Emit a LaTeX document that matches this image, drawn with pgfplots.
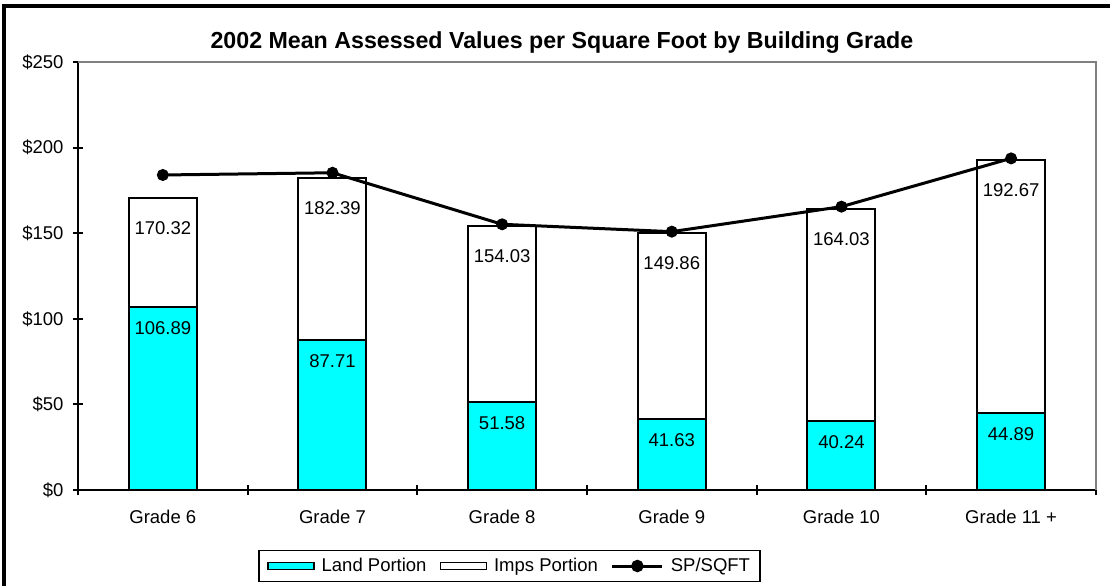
\documentclass[border=0pt]{standalone}
\usepackage{fontspec}
\setmainfont{Liberation Sans}
\usepackage{pgfplots}
\pgfplotsset{compat=1.18}
\usepackage{pgfplotstable}
\definecolor{landcyan}{RGB}{0,255,255}
\definecolor{framegray}{RGB}{128,128,128}
\newcommand\fs{\fontsize{18.5bp}{22bp}\selectfont}

% land portion, total (land + imps) and sale price per sq ft
\pgfplotstableread{
x land   total  sp
0 106.89 170.32 184.0
1 87.71  182.39 185.3
2 51.58  154.03 155.2
3 41.63  149.86 150.9
4 40.24  164.03 165.5
5 44.89  192.67 193.7
}\gradedata

\begin{document}
\begin{tikzpicture}
\begin{axis}[
  at={(78bp,96bp)}, anchor=south west,
  scale only axis, width=1018bp, height=428bp,
  xmin=-0.5, xmax=5.5, ymin=0, ymax=250,
  clip=false,
  /pgf/number format/assume math mode=true,
  axis lines=left,
  axis line style={-, line width=2bp, black},
  tick align=center,
  major tick length=10bp,
  tick style={black, line width=2bp},
  ytick={0,50,100,150,200,250},
  yticklabels={\$0,\$50,\$100,\$150,\$200,\$250},
  xtick={-0.5,0.5,1.5,2.5,3.5,4.5,5.5},
  xticklabels={,,,,,,},
  extra x ticks={0,1,2,3,4,5},
  extra x tick labels={Grade 6,Grade 7,Grade 8,Grade 9,Grade 10,Grade 11 +},
  extra x tick style={major tick length=0pt},
  tick label style={font=\fs},
  xticklabel style={yshift=-17bp},
  yticklabel style={xshift=-6bp},
  title={2002 Mean Assessed Values per Square Foot by Building Grade},
  title style={font=\fontsize{23.2bp}{27bp}\selectfont\bfseries, at={(axis description cs:0.4754,1.0467)}, anchor=center, yshift=-7bp},
  legend columns=3,
  legend style={at={(axis description cs:0.424,-0.1776)}, anchor=center,
    draw=black, line width=1.5bp, font=\fs, inner xsep=8bp, inner ysep=6bp,
    /tikz/every odd column/.append style={column sep=5bp},
    /tikz/every even column/.append style={column sep=11bp}},
]
% total bars (white) underneath, land bars (cyan) on top
\addplot[ybar, bar width=68bp, bar shift=0pt, fill=white, draw=black, line width=2bp,
  forget plot, point meta=explicit,
  nodes near coords={\pgfmathprintnumber[fixed,precision=2,fixed zerofill]{\pgfplotspointmeta}},
  every node near coord/.append style={anchor=center, yshift=-30bp, font=\fs, text=black}]
  table[x=x, y=total, meta=total] {\gradedata};
\addplot[ybar, bar width=68bp, bar shift=0pt, fill=landcyan, draw=black, line width=2bp,
  forget plot, point meta=explicit,
  nodes near coords={\pgfmathprintnumber[fixed,precision=2,fixed zerofill]{\pgfplotspointmeta}},
  every node near coord/.append style={anchor=center, yshift=-21bp, font=\fs, text=black}]
  table[x=x, y=land, meta=land] {\gradedata};
\addplot[black, line width=3bp, mark=*, mark size=5.5bp, mark options={solid, line width=1bp}, forget plot]
  table[x=x, y=sp] {\gradedata};

\draw[framegray, line width=2bp] (rel axis cs:0,1) -- (rel axis cs:1,1) -- (rel axis cs:1,0);

\addlegendimage{legend image code/.code={\draw[fill=landcyan, draw=black, line width=1.5bp] (0bp,-3.5bp) rectangle (46bp,3.5bp);}}
\addlegendentry{Land Portion}
\addlegendimage{legend image code/.code={\draw[fill=white, draw=black, line width=1.5bp] (0bp,-3.5bp) rectangle (46bp,3.5bp);}}
\addlegendentry{Imps Portion}
\addlegendimage{legend image code/.code={\draw[black, line width=3bp] (0bp,0bp) -- (50bp,0bp); \fill[black] (25bp,0bp) circle (5.5bp);}}
\addlegendentry{SP/SQFT}
\end{axis}
\draw[black, line width=4bp] (4bp,0bp) -- (4bp,580bp) -- (1110bp,580bp);
\pgfresetboundingbox
\useasboundingbox (0bp,0bp) rectangle (1110bp,586bp);
\end{tikzpicture}
\end{document}
